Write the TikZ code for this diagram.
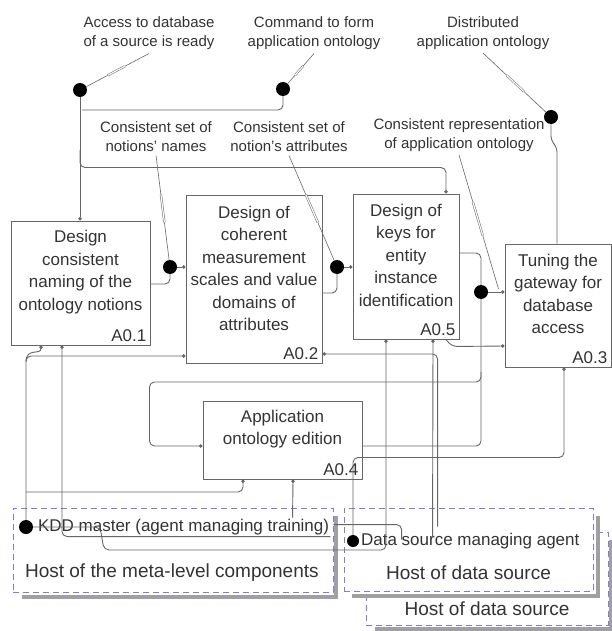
\documentclass[tikz,border=0pt]{standalone}
\usepackage{fontspec}
\setmainfont{Liberation Sans}
\usetikzlibrary{positioning, arrows.meta, calc}
\definecolor{idefLine}{HTML}{666666}
\definecolor{idefText}{HTML}{333333}
\definecolor{hostBlue}{HTML}{7C7CE0}
\definecolor{hostShadow}{HTML}{A0A0A0}
\tikzstyle{actbox} =[draw=idefLine, line width=1pt, inner sep=0pt]
\tikzstyle{acttext} =[align=center, text=idefText, font=\fontsize{17}{22.5}\selectfont]
\tikzstyle{actnum} =[anchor=south east, inner sep=4pt, text=idefText, font=\fontsize{17}{20}\selectfont]
\tikzstyle{arrowlabel} =[align=center, text=idefText, font=\fontsize{15}{19}\selectfont]
\tikzstyle{flow} =[idefLine, line width=0.9pt, rounded corners=5pt]
\tikzstyle{flowin} =[flow, -{Circle[length=3.5pt]}]
\tikzstyle{bigdot} =[circle, fill=black, inner sep=0pt, minimum size=14pt]
\tikzstyle{hostbox} =[draw=hostBlue, line width=0.9pt, dash pattern=on 6pt off 4pt, fill=white, inner sep=0pt]
\tikzstyle{hostshadow} =[hostShadow, line width=4pt]
\tikzstyle{hosttext} =[anchor=west, text=idefText, font=\fontsize{19}{22}\selectfont]
\tikzstyle{agenttext} =[anchor=west, text=idefText, font=\fontsize{17}{20}\selectfont]
\newcommand{\squiggle}[2]{%
  \draw[idefLine, line width=0.6pt] (#1) -- (#2);
  \draw[idefLine, line width=0.5pt, double=white, double distance=1.2pt] ($(#1)!0.35!(#2)$) -- ($(#1)!0.6!(#2)$);}

\begin{document}
\begin{tikzpicture}[x=1pt, y=-1pt]
\useasboundingbox (0,0) rectangle (612,631);

% hosts
\node (hostDsTwo) [hostbox, minimum width=242pt, minimum height=93pt] at (487,578.5) {};
\draw[hostshadow] ($(hostDsTwo.south west)+(9,4)$) -- ($(hostDsTwo.south east)+(3,4)$) -- ($(hostDsTwo.north east)+(3,8)$);
\node (hostDsTwoTitle) [hosttext, anchor=center] at ($(hostDsTwo.south)+(0,-17)$) {Host of data source};

\node (hostMeta) [hostbox, minimum width=320pt, minimum height=84pt] at (173,550) {};
\draw[hostshadow] ($(hostMeta.south west)+(9,5)$) -- ($(hostMeta.south east)+(3,5)$) -- ($(hostMeta.north east)+(3,8)$);
\node (hostDs) [hostbox, minimum width=249pt, minimum height=83pt] at (468.5,549.5) {};
\draw[hostshadow] ($(hostDs.south west)+(8,5)$) -- ($(hostDs.south east)+(5,5)$) -- ($(hostDs.north east)+(5,8)$);

\node (metaTitle) [hosttext] at ($(hostMeta.west)+(9,23)$) {Host of the meta-level components};
\node (kddText) [agenttext] at ($(hostMeta.west)+(22,-23)$) {KDD master (agent managing training)};
\node (dsTitle) [hosttext, anchor=center] at ($(hostDs.center)+(0,23.5)$) {Host of data source};
\node (dsAgent) [agenttext] at ($(hostDs.west)+(14,-8.5)$) {Data source managing agent};

% activities
\node (a01) [actbox, minimum width=139pt, minimum height=124pt] at (80.5,283) {};
\node (a01Text) [acttext] at ($(a01.center)+(0,-11)$) {Design\\consistent\\naming of the\\ontology notions};
\node (a01Num) [actnum] at (a01.south east) {A0.1};

\node (a02) [actbox, minimum width=136pt, minimum height=168pt, right=35pt of a01, yshift=4pt] {};
\node (a02Text) [acttext] at ($(a02.center)+(0,-10.5)$) {Design of\\coherent\\measurement\\scales and value\\domains of\\attributes};
\node (a02Num) [actnum] at (a02.south east) {A0.2};

\node (a05) [actbox, minimum width=106pt, minimum height=145pt, right=30pt of a02, yshift=12.5pt] {};
\node (a05Text) [acttext] at ($(a05.center)+(0,-11.5)$) {Design of\\keys for\\entity\\instance\\identification};
\node (a05Num) [actnum] at (a05.south east) {A0.5};

\node (a03) [actbox, minimum width=106pt, minimum height=123pt, right=45pt of a05, yshift=-39pt] {};
\node (a03Text) [acttext] at ($(a03.center)+(0,-11.5)$) {Tuning the\\gateway for\\database\\access};
\node (a03Num) [actnum] at (a03.south east) {A0.3};

\node (a04) [actbox, minimum width=159pt, minimum height=78pt, below=37pt of a02, xshift=28.5pt] {};
\node (a04Text) [acttext] at ($(a04.center)+(0,-11)$) {Application\\ontology edition};
\node (a04Num) [actnum] at (a04.south east) {A0.4};

% arrow labels
\node (lAccess) [arrowlabel] at (149,33.5) {Access to database\\of a source is ready};
\node (lCmd) [arrowlabel] at (314,33.5) {Command to form\\application ontology};
\node (lDist) [arrowlabel] at (483,33) {Distributed\\application ontology};
\node (lNames) [arrowlabel] at (156,137) {Consistent set of\\notions' names};
\node (lAttr) [arrowlabel] at (289,137) {Consistent set of\\notion's attributes};
\node (lRep) [arrowlabel] at (459,135) {Consistent representation\\of application ontology};

% junction dots
\node (dAccess) [bigdot] at (80,90) {};
\node (dCmd) [bigdot] at (283,89) {};
\node (dDist) [bigdot] at (551,117) {};
\node (dNames) [bigdot] at (170,267) {};
\node (dAttr) [bigdot] at (337,267) {};
\node (dRep) [bigdot] at (481,292) {};
\node (dKdd) [bigdot] at (26,527) {};
\node (dDs) [bigdot, minimum size=12pt] at (353,541) {};

\coordinate (dsBusA) at ($(hostDs.north west)+(94,19)$);
\coordinate (dsBusB) at ($(hostDs.north west)+(89,29)$);
\coordinate (dsBusC) at ($(hostDs.north west)+(58,32)$);
\coordinate (metaEnd) at ($(hostMeta.north east)+(-3,29)$);
\coordinate (metaRight) at ($(hostMeta.north east)+(0,17)$);
\coordinate (metaTop) at ($(hostMeta.north west)+(280,10)$);
\coordinate (repTip) at ($(dRep -| a03.west)+(-6,-3)$);

% controls
\draw[flowin] (dAccess) -- (dAccess |- a01.north);
\draw[flow] (dCmd) |- ($(dAccess)+(2,20)$);
\draw[flowin] ($(dAccess)+(0,60)$) |- ($(a05.north)+(40,-26)$) -- ($(a05.north)+(40,0)$);
\draw[flow] (dDist) -- ++(0,24) -- ++(6,6) -- ($(a03.north)+(-1,0)$);

% flows between activities
\draw[flow] ($(a01.east)+(0,1)$) -| (dNames);
\draw[flowin] (dNames) -- (dNames -| a02.west);
\draw[flow] ($(a02.east)+(0,14)$) -| (dAttr);
\draw[flowin] (dAttr) -- (dAttr -| a05.west);
\draw[flow] ($(a05.east)+(0,-13.5)$) -| (dRep);
\draw[flowin] (dRep) -- (dRep -| a03.west);
\draw[flow] ($(a04.east)+(0,6)$) -| (dRep);
\draw[flowin] ($(dRep)+(0,80)$) |- ($(a04.west)+(-53,-58)$) |- ($(a04.west)+(0,6)$);
\draw[flowin] ($(a05.south)+(40,0)$) -- ++(6,7) -- ($(a03.west)+(0,40.5)$);

% mechanisms
\draw[flowin] (dDs) |- ($(a03.south)+(6,90)$) -- ($(a03.south)+(6,0)$);
\draw[flowin] (dsBusA) |- ($(a02.east)+(0,75)$);
\draw[flowin] (dsBusB) -- ($(a05.south)+(27,0)$);
\draw[flowin] (dKdd) -- ++(74,0) -- ++(4,23) -| ($(a05.south)+(-20,0)$);
\draw[flowin] (metaEnd) -| ($(a01.south)+(-18.5,0)$);
\draw[flowin] (dKdd) |- ($(a02.west)+(0,77)$);
\draw[flowin] ($(dKdd)+(0,-165)$) .. controls ($(dKdd)+(0,-180)$) and ($(a01.south)+(-39.5,10)$) .. ($(a01.south)+(-39.5,0)$);
\draw[flowin] ($(dKdd)+(0,-35)$) -| ($(a04.south)+(-39.5,0)$);
\draw[flowin] (metaTop) -- ($(a04.south)+(10.5,0)$);
\draw[flow] (metaRight) -| (dsBusC);

% label tildes
\squiggle{lAccess.south}{dAccess}
\squiggle{lCmd.south}{dCmd}
\squiggle{lDist.south}{dDist}
\squiggle{lNames.south}{dNames}
\squiggle{lAttr.south}{dAttr}
\squiggle{lRep.south}{repTip}

\end{tikzpicture}
\end{document}
